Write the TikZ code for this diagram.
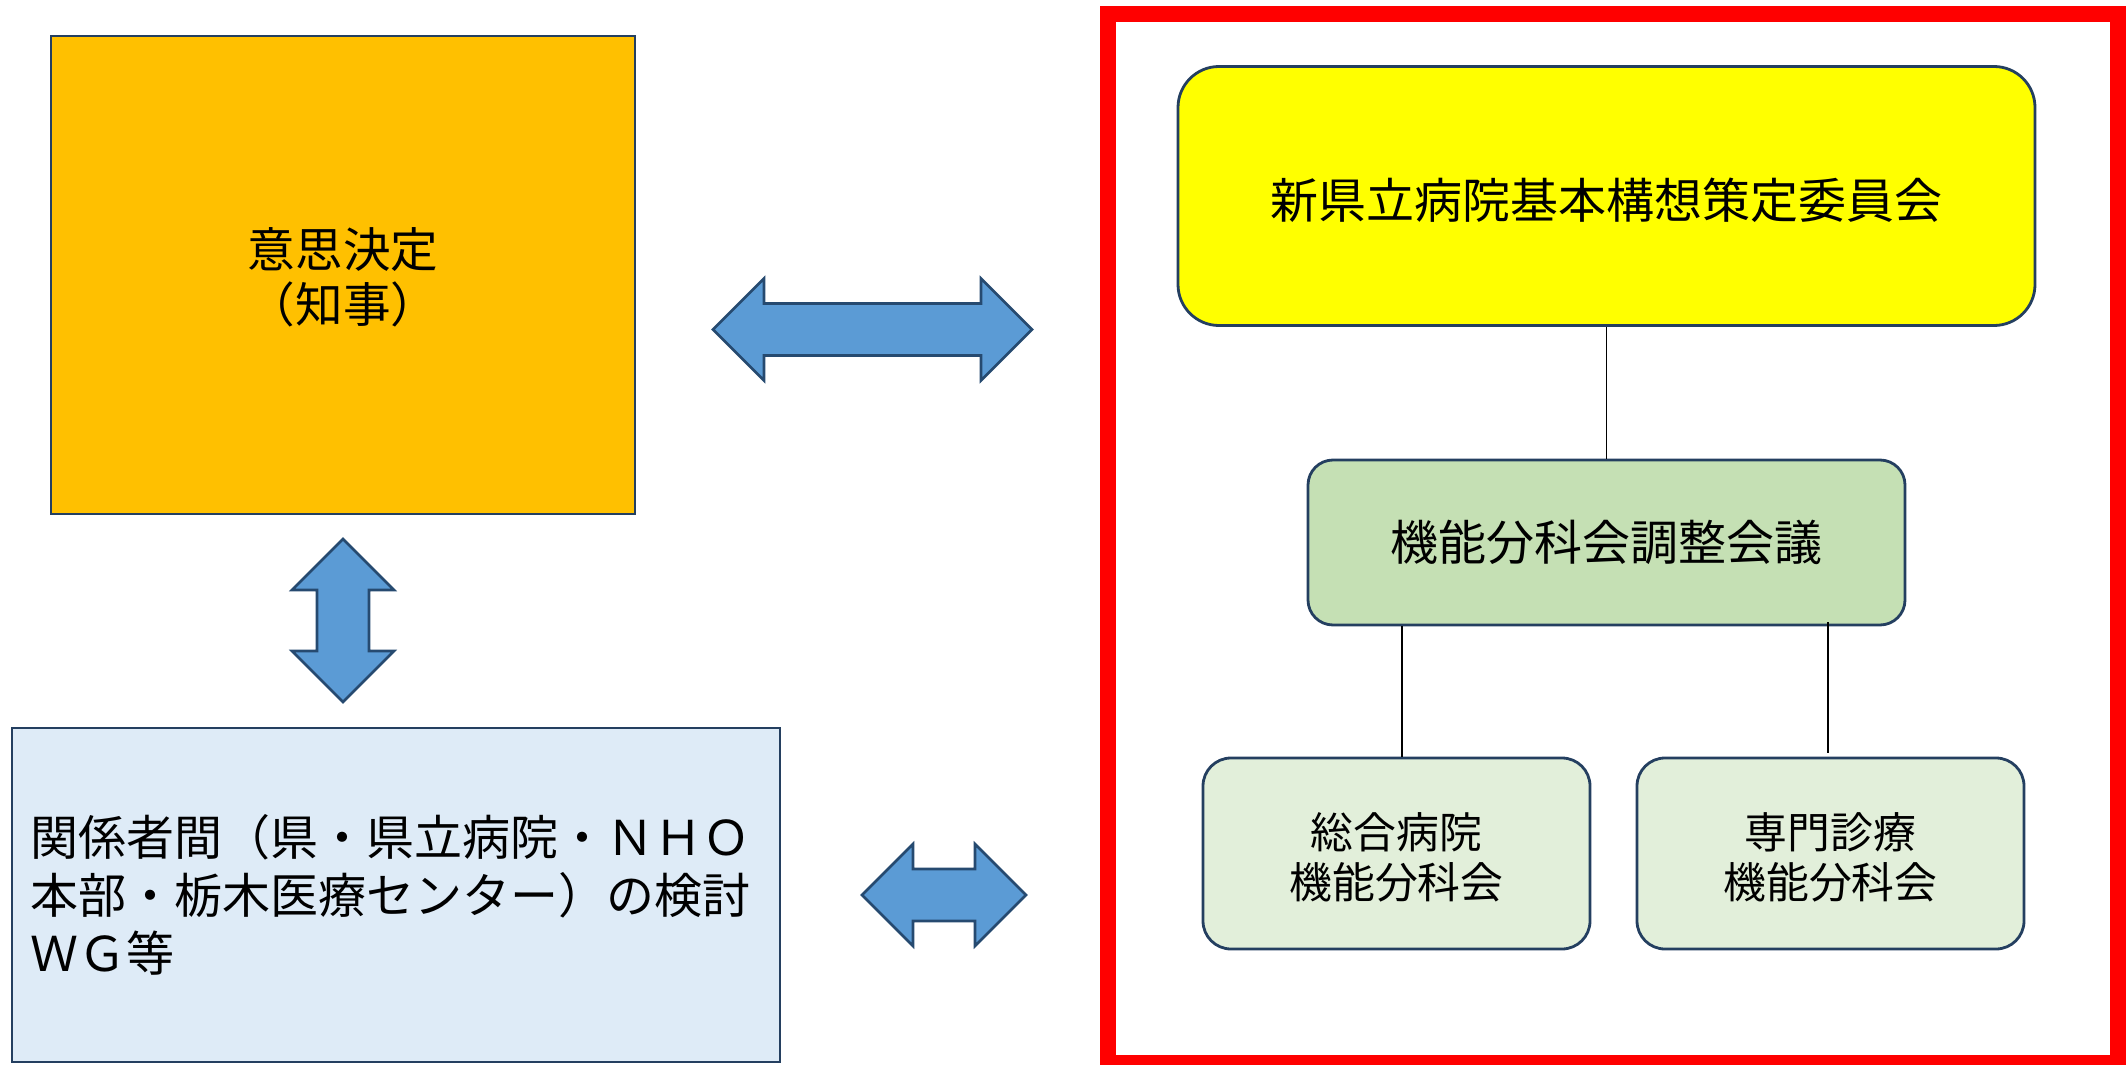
\documentclass[tikz,border=0pt]{standalone}
\usepackage{fontspec}
\newfontfamily\jp{Noto Sans CJK JP}
\definecolor{edge}{HTML}{243F60}
\definecolor{orangefill}{HTML}{FFC000}
\definecolor{bluefill}{HTML}{DEEBF7}
\definecolor{arrowfill}{HTML}{5B9BD5}
\definecolor{arrowedge}{HTML}{264A70}
\definecolor{yellowfill}{HTML}{FFFF00}
\definecolor{midgreen}{HTML}{C5E0B4}
\definecolor{subgreen}{HTML}{E2EFDA}
\tikzset{
  box/.style={draw=edge, line width=1.4pt, inner sep=0pt, font=\jp, text=black},
  lbl/.style={inner sep=0pt, text=black, align=center},
  bigtext/.style={font={\jp\fontsize{24}{28.9}\selectfont}},
  conn/.style={draw=black, line width=0.9pt},
  fatarrow/.style={fill=arrowfill, draw=arrowedge, line width=1.3pt, line join=miter},
  frame/.style={draw=red, line width=8pt}
}
\newcommand\harrowshape[3]{% xa, xb, y
  \path[fatarrow] (#1,#3) -- ({#1+51},{#3-51}) -- ({#1+51},{#3-26}) -- ({#2-51},{#3-26})
    -- ({#2-51},{#3-51}) -- (#2,#3) -- ({#2-51},{#3+51}) -- ({#2-51},{#3+26})
    -- ({#1+51},{#3+26}) -- ({#1+51},{#3+51}) -- cycle;}
\newcommand\varrowshape[3]{% ya, yb, x
  \path[fatarrow] (#3,#1) -- ({#3-51},{#1+51}) -- ({#3-26},{#1+51}) -- ({#3-26},{#2-51})
    -- ({#3-51},{#2-51}) -- (#3,#2) -- ({#3+51},{#2-51}) -- ({#3+26},{#2-51})
    -- ({#3+26},{#1+51}) -- ({#3+51},{#1+51}) -- cycle;}
\begin{document}
\begin{tikzpicture}[x=0.5pt, y=-0.5pt]
\useasboundingbox (0,0) rectangle (2126,1065);

% left side
\node[box, fill=orangefill, minimum width=292pt, minimum height=239pt] (decide) at (343,275) {};
\node[lbl, font={\jp\fontsize{23.8}{27.8}\selectfont}] (decidetext) at ([yshift=-1.2pt]decide.center) {意思決定\\（知事）};
\node[box, fill=bluefill, minimum width=384pt, minimum height=167pt, align=left,
      text width=365pt, bigtext] (wg) at (396,895)
      {関係者間（県・県立病院・ＮＨＯ\\本部・栃木医療センター）の検討\\ＷＧ等};

\harrowshape{713}{1032}{329.5}
\varrowshape{539}{702}{343}
\harrowshape{862}{1026}{895}

% right side
\draw[frame] (1108,14) rectangle (2118,1063);
\node[box, fill=yellowfill, rounded corners=20.5pt, minimum width=428.5pt, minimum height=129.5pt] (top) at (1606.5,196) {};
\node[lbl, font={\jp\fontsize{24}{28}\selectfont}] (toptext) at ([yshift=-2pt]top.center) {新県立病院基本構想策定委員会};
\node[box, fill=midgreen, rounded corners=12.5pt, minimum width=298.5pt, minimum height=82.5pt,
      font={\jp\fontsize{24}{28}\selectfont}] (mid) at (1606.5,542.5) {機能分科会調整会議};
\node[box, fill=subgreen, rounded corners=14pt, minimum width=193.5pt, minimum height=95.5pt] (sub1) at (1396.5,853.5) {};
\node[lbl, font={\jp\fontsize{21.4}{25}\selectfont}] (sub1text) at ([yshift=-2pt]sub1.center) {総合病院\\機能分科会};
\node[box, fill=subgreen, rounded corners=14pt, minimum width=193.5pt, minimum height=95.5pt] (sub2) at (1830.5,853.5) {};
\node[lbl, font={\jp\fontsize{21.4}{25}\selectfont}] (sub2text) at ([yshift=-2pt]sub2.center) {専門診療\\機能分科会};

\draw[conn] (top.south) -- (mid.north);
\draw[conn] ([xshift=2.75pt]sub1.north) -- ([xshift=2.75pt]sub1.north |- mid.south);
\draw[conn] ([xshift=-1.4pt,yshift=2pt]sub2.north) -- ([xshift=-1.4pt,yshift=2pt]sub2.north |- mid.south);
\end{tikzpicture}
\end{document}
